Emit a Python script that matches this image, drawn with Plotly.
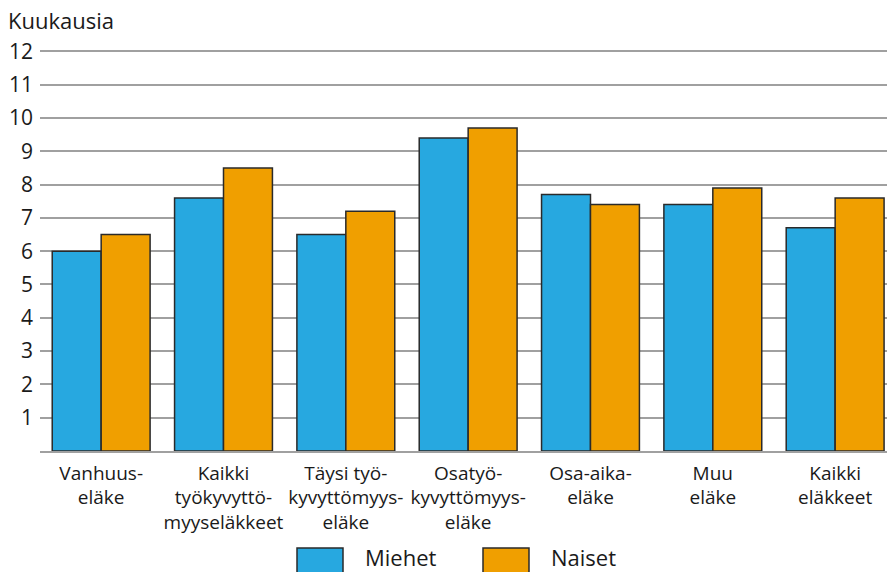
import plotly.graph_objects as go

categories = ["Vanhuus-<br>eläke", "Kaikki<br>työkyvyttö-<br>myyseläkkeet", "Täysi työ-<br>kyvyttömyys-<br>eläke",
              "Osatyö-<br>kyvyttömyys-<br>eläke", "Osa-aika-<br>eläke", "Muu<br>eläke", "Kaikki<br>eläkkeet"]
miehet = [6.0, 7.6, 6.5, 9.4, 7.7, 7.4, 6.7]
naiset = [6.5, 8.5, 7.2, 9.7, 7.4, 7.9, 7.6]
series_names = ["Miehet", "Naiset"]
y_ticks = list(range(1, 13))

BLUE = "#27a8e0"
ORANGE = "#f09f00"
FONT = "Open Sans"

W, H = 887, 572
YMAX = 12.1
ML, MR, MB = 40, 0, 121
ph = 400 * YMAX / 12
MT = H - MB - ph
pw = W - ML - MR

fig = go.Figure()
fig.add_trace(go.Bar(x=list(range(len(categories))), y=miehet, name=series_names[0],
                     marker=dict(color=BLUE, line=dict(color="#2a2a2a", width=1.5)), showlegend=False))
fig.add_trace(go.Bar(x=list(range(len(categories))), y=naiset, name=series_names[1],
                     marker=dict(color=ORANGE, line=dict(color="#2a2a2a", width=1.5)), showlegend=False))

def px_x(x):
    return (x - ML) / pw

def px_y(y):
    return (H - MB - y) / ph

# Custom legend
legend_items = [(297, 343, 363, BLUE, series_names[0]), (483, 529, 549, ORANGE, series_names[1])]
for x0, x1, tx, col, name in legend_items:
    fig.add_shape(type="rect", xref="paper", yref="paper",
                  x0=px_x(x0), x1=px_x(x1), y0=px_y(548), y1=px_y(576),
                  fillcolor=col, line=dict(color="#2a2a2a", width=1.5))
    fig.add_annotation(xref="paper", yref="paper", x=px_x(tx), y=px_y(557),
                       text=name, showarrow=False, xanchor="left", yanchor="middle",
                       font=dict(family=FONT, size=22, color="#1a1a1a"))

fig.add_annotation(xref="paper", yref="paper", x=px_x(6), y=px_y(20), text="Kuukausia",
                   showarrow=False, xanchor="left", yanchor="middle",
                   font=dict(family=FONT, size=22, color="#1a1a1a"))

fig.update_layout(
    width=W, height=H,
    margin=dict(l=ML, r=MR, t=MT, b=MB, pad=0),
    paper_bgcolor="white", plot_bgcolor="white",
    barmode="group", bargap=0.2, bargroupgap=0,
    font=dict(family=FONT, color="#1a1a1a"),
    xaxis=dict(tickmode="array", tickvals=list(range(len(categories))), ticktext=categories,
               range=[-0.5, -0.5 + pw / 122.33], showgrid=False, showline=True,
               linecolor="#a0a0a0", linewidth=1.5, ticks="", tickfont=dict(size=19),
               zeroline=False, tickangle=0, ticklabelstandoff=4),
    yaxis=dict(range=[0, YMAX], tickmode="array", tickvals=y_ticks, showgrid=True,
               gridcolor="#a0a0a0", gridwidth=1.5, zeroline=False, showline=False,
               ticks="", tickfont=dict(size=21), ticklabelstandoff=6),
)

fig.write_html("out.html", config={"displayModeBar": False},
               post_script="document.body.style.margin='0';document.body.style.padding='0';")
